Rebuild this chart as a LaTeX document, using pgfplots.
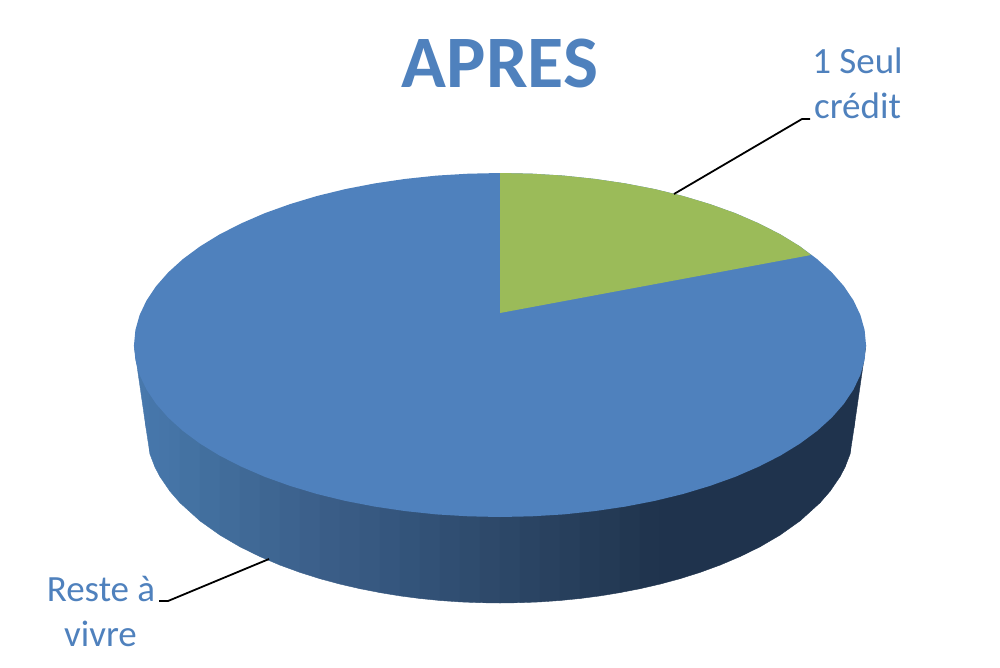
\documentclass[border=0pt]{standalone}
\usepackage{pgfplots}
\pgfplotsset{compat=1.18}
\usepackage{fontspec}
\setmainfont{Carlito}
\definecolor{pieblue}{RGB}{79,129,189}
\definecolor{piegreen}{RGB}{155,187,89}
\def\stripx#1,#2,#3;#4{\addplot[fill={rgb,255:red,#1;green,#2;blue,#3},draw={rgb,255:red,#1;green,#2;blue,#3},line width=0.4pt,line join=round] coordinates {#4} -- cycle;}
\newcommand\strip[5]{\stripx #1;{(#2,345)(#2,#3)(#4,#5)(#4,345)}}
\begin{document}
\begin{tikzpicture}[x=1pt,y=1pt]
\path[use as bounding box] (0,0) rectangle (1000,667);
\begin{axis}[at={(0,0)},anchor=south west,hide axis,scale only axis,width=1000pt,height=667pt,
  xmin=0,xmax=1000,ymin=0,ymax=667,y dir=reverse,clip=false]
% side wall, vertical bands left to right
\stripx 72,120,172;{(134,345)(146,428)(146,345)}
\strip{71,119,171}{146}{428}{150}{454.2}
\strip{70,118,170}{150}{454.2}{155}{467.2}
\strip{70,118,170}{155}{467.2}{160}{476.7}
\strip{70,117,168}{160}{476.7}{170}{491.3}
\strip{69,116,166}{170}{491.3}{180}{502.8}
\strip{68,114,162}{180}{502.8}{200}{520.9}
\strip{66,111,158}{200}{520.9}{220}{535.1}
\strip{65,108,154}{220}{535.1}{240}{546.8}
\strip{64,105,150}{240}{546.8}{260}{556.6}
\strip{62,102,146}{260}{556.6}{280}{565.1}
\strip{61,99,143}{280}{565.1}{300}{572.4}
\strip{60,96,139}{300}{572.4}{320}{578.7}
\strip{58,93,135}{320}{578.7}{340}{584.1}
\strip{57,91,132}{340}{584.1}{360}{588.7}
\strip{55,89,129}{360}{588.7}{380}{592.6}
\strip{53,86,126}{380}{592.6}{400}{595.9}
\strip{51,84,122}{400}{595.9}{420}{598.5}
\strip{50,81,118}{420}{598.5}{440}{600.5}
\strip{48,78,114}{440}{600.5}{460}{601.9}
\strip{47,76,110}{460}{601.9}{480}{602.7}
\strip{46,73,106}{480}{602.7}{500}{603}
\strip{44,71,103}{500}{603}{520}{602.7}
\strip{42,68,99}{520}{602.7}{540}{601.9}
\strip{41,65,95}{540}{601.9}{560}{600.5}
\strip{39,63,92}{560}{600.5}{580}{598.5}
\strip{37,60,88}{580}{598.5}{600}{595.9}
\strip{36,58,85}{600}{595.9}{620}{592.6}
\strip{34,55,81}{620}{592.6}{640}{588.7}
\strip{32,52,78}{640}{588.7}{660}{584.1}
\strip{31,51,77}{660}{584.1}{680}{578.7}
\strip{31,51,77}{680}{578.7}{700}{572.4}
\strip{31,51,77}{700}{572.4}{720}{565.1}
\strip{31,51,77}{720}{565.1}{740}{556.6}
\strip{31,51,77}{740}{556.6}{760}{546.8}
\strip{31,51,77}{760}{546.8}{780}{535.1}
\strip{31,51,77}{780}{535.1}{800}{520.9}
\strip{31,51,77}{800}{520.9}{820}{502.8}
\strip{31,51,77}{820}{502.8}{830}{491.3}
\strip{31,51,77}{830}{491.3}{840}{476.7}
\strip{31,51,77}{840}{476.7}{845}{467.2}
\strip{31,51,77}{845}{467.2}{850}{454.2}
\strip{31,51,77}{850}{454.2}{854}{428}
\stripx 31,51,77;{(854,345)(854,428)(866,345)}
% top face: Reste a vivre
\addplot[fill=pieblue,draw=none] coordinates {
(134,345)(135.4,330)(139.6,315.1)(146.5,300.5)(156.1,286.2)(168.3,272.3)(183,259)(200.2,246.3)(219.6,234.4)(241.2,223.4)(264.7,213.2)(290.1,204.1)(317,196)(345.3,189.1)(374.8,183.4)(405.3,178.9)(436.5,175.6)(468.1,173.7)(500,173)(531.9,173.7)(563.5,175.6)(594.7,178.9)(625.2,183.4)(654.7,189.1)(683,196)(709.9,204.1)(735.3,213.2)(758.8,223.4)(780.4,234.4)(799.8,246.3)(817,259)(831.7,272.3)(843.9,286.2)(853.5,300.5)(860.4,315.1)(864.6,330)
(866,345)(864.6,360)(860.4,374.9)(853.5,389.5)(843.9,403.8)(831.7,417.7)(817,431)(799.8,443.7)(780.4,455.6)(758.8,466.6)(735.3,476.8)(709.9,485.9)(683,494)(654.7,500.9)(625.2,506.6)(594.7,511.1)(563.5,514.4)(531.9,516.3)(500,517)(468.1,516.3)(436.5,514.4)(405.3,511.1)(374.8,506.6)(345.3,500.9)(317,494)(290.1,485.9)(264.7,476.8)(241.2,466.6)(219.6,455.6)(200.2,443.7)(183,431)(168.3,417.7)(156.1,403.8)(146.5,389.5)(139.6,374.9)(135.4,360)} -- cycle;
% top face: 1 Seul credit
\addplot[fill=piegreen,draw=none] coordinates {
(500,313)(500,173)(531.9,173.7)(563.5,175.6)(594.7,178.9)(625.2,183.4)(654.7,189.1)(683,196)(709.9,204.1)(735.3,213.2)(758.8,223.4)(780.4,234.4)(799.8,246.3)(811,255)} -- cycle;
% leader lines
\addplot[black,line width=1.8pt] coordinates {(674,194)(802,119)(810,119)};
\addplot[black,line width=1.8pt] coordinates {(269,559)(168,601)(159,601)};
% text
\node[anchor=base,inner sep=0pt,text=pieblue,font=\fontsize{74}{90}\selectfont\bfseries] at (axis cs:500,87) {APRES};
\node[anchor=base,inner sep=0pt,text=pieblue,font=\fontsize{37}{45}\selectfont] at (axis cs:857.5,73) {1 Seul};
\node[anchor=base,inner sep=0pt,text=pieblue,font=\fontsize{37}{45}\selectfont] at (axis cs:857.5,118) {crédit};
\node[anchor=base,inner sep=0pt,text=pieblue,font=\fontsize{37}{45}\selectfont] at (axis cs:101,601) {Reste à};
\node[anchor=base,inner sep=0pt,text=pieblue,font=\fontsize{37}{45}\selectfont] at (axis cs:100.5,646) {vivre};
\end{axis}
\end{tikzpicture}
\end{document}
